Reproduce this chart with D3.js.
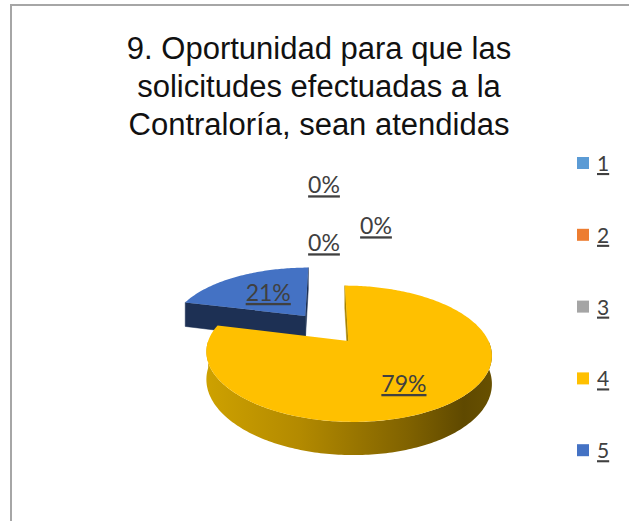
<!DOCTYPE html>
<html>
<head>
<meta charset="utf-8">
<script src="https://cdn.jsdelivr.net/npm/d3@7"></script>
<style>
  body { margin: 0; background: #fff; }
  svg text { font-family: "Lato", "Liberation Sans", sans-serif; }
</style>
</head>
<body>
<svg id="chart" width="629" height="521"></svg>
<script>
// data
var categories = ["1", "2", "3", "4", "5"];
var values = [0, 0, 0, 79, 21];
var colors = ["#5B9BD5", "#ED7D31", "#A5A5A5", "#FFC000", "#4472C4"];
var sideColors = ["#3f74a4", "#b35a1f", "#7a7a7a", "#a88400", "#1d3054"];
var titleLines = ["9. Oportunidad para que las", "solicitudes efectuadas a la", "Contraloría, sean atendidas"];

// small shifts for the data labels (the empty slices all sit at the 12 o'clock edge)
var labelNudge = [[-2, -91], [50, -50], [-2, -33], [-1, 10], [-1, -2]];

var svg = d3.select("#chart");
var width = 629, height = 521;

// frame
svg.append("rect")
    .attr("x", 11).attr("y", 5)
    .attr("width", width).attr("height", height)
    .style("fill", "none")
    .style("stroke", "#a6a6a6")
    .style("stroke-width", 2);

// title
svg.append("g").selectAll("text")
    .data(titleLines)
    .enter().append("text")
    .attr("x", 319)
    .attr("y", function(d, i) { return 59 + i * 38; })
    .attr("text-anchor", "middle")
    .style("font-family", "'Liberation Sans', Arial, sans-serif")
    .style("font-size", "31px")
    .style("fill", "#111")
    .text(function(d) { return d; });

// 3d pie geometry
var cx = 326, cy = 328;
var R = 135, RY = 61, P = 0.18, H = 26, E = 0.26;

var proj = function(X, Z, down)
{
    var s = 1 / (1 + P * Z);
    return [cx + R * X * s, cy + (-RY * Z + down) * s];
}

var pie = d3.pie().sort(null).value(function(d) { return d; });
var arcs = pie(values);

arcs.forEach(function(d, i)
{
    var mid = (d.startAngle + d.endAngle) / 2;
    var e = d.value > 0 ? E : 0;
    d.ex = e * Math.sin(mid);
    d.ez = e * Math.cos(mid);
    d.i = i;
});

var rim = function(d, a, down)
{
    return proj(d.ex + Math.sin(a), d.ez + Math.cos(a), down);
}
var apex = function(d, down)
{
    return proj(d.ex, d.ez, down);
}
var sample = function(a0, a1)
{
    var n = Math.max(2, Math.ceil((a1 - a0) / (Math.PI / 180)));
    return d3.range(n + 1).map(function(k) { return a0 + (a1 - a0) * k / n; });
}

var line = d3.line();

var defs = svg.append("defs");
var grad = defs.append("linearGradient")
    .attr("id", "sideYellow")
    .attr("gradientUnits", "userSpaceOnUse")
    .attr("x1", cx - R).attr("x2", cx + R + 40)
    .attr("y1", 0).attr("y2", 0);
grad.selectAll("stop")
    .data([[0, "#d2a500"], [0.35, "#b38a00"], [0.7, "#806200"], [0.88, "#5f4900"], [1, "#6a5200"]])
    .enter().append("stop")
    .attr("offset", function(d) { return d[0]; })
    .attr("stop-color", function(d) { return d[1]; });

var pieG = svg.append("g");
var drawn = arcs.filter(function(d) { return d.value > 0; })
    .sort(function(a, b) { return b.ez - a.ez; });

drawn.forEach(function(d)
{
    var g = pieG.append("g");

    // flat sides on the cut edges, only those turned to us
    [[d.startAngle, Math.sin(d.startAngle)], [d.endAngle, -Math.sin(d.endAngle)]].forEach(function(f)
    {
        if (f[1] > 0.05) return;
        g.append("path")
            .attr("d", line([apex(d, 0), rim(d, f[0], 0), rim(d, f[0], H), apex(d, H)]) + "Z")
            .style("fill", sideColors[d.i])
            .style("stroke", sideColors[d.i])
            .style("stroke-width", 0.5);
    });

    // round side, front half only
    var a0 = Math.max(d.startAngle, Math.PI / 2);
    var a1 = Math.min(d.endAngle, 3 * Math.PI / 2);
    if (a1 > a0)
    {
        var angs = sample(a0, a1);
        var pts = angs.map(function(a) { return rim(d, a, 0); })
            .concat(angs.slice().reverse().map(function(a) { return rim(d, a, H); }));
        g.append("path")
            .attr("d", line(pts) + "Z")
            .style("fill", d.i == 3 ? "url(#sideYellow)" : sideColors[d.i]);
    }

    // top face
    var top = [apex(d, 0)].concat(sample(d.startAngle, d.endAngle).map(function(a) { return rim(d, a, 0); }));
    g.append("path")
        .attr("d", line(top) + "Z")
        .style("fill", colors[d.i]);
});

// data labels
var labelPos = function(d)
{
    var p;
    if (d.value == 0)
        p = proj(0, 1, 0);
    else
    {
        var mid = (d.startAngle + d.endAngle) / 2;
        var r = d.i == 3 ? 0.58 : 0.5;
        p = proj(d.ex + r * Math.sin(mid), d.ez + r * Math.cos(mid), 0);
    }
    var z = labelNudge[d.i];
    return [p[0] + z[0], p[1] + z[1]];
}

svg.append("g").selectAll("text")
    .data(arcs)
    .enter().append("text")
    .attr("x", function(d) { return labelPos(d)[0]; })
    .attr("y", function(d) { return labelPos(d)[1] + 8; })
    .attr("text-anchor", "middle")
    .style("font-size", "23px")
    .style("fill", "#404040")
    .style("text-decoration", "underline")
    .text(function(d) { return Math.round(d.value) + "%"; });

// legend
var legend = svg.append("g").selectAll("g")
    .data(categories)
    .enter().append("g")
    .attr("transform", function(d, i) { return "translate(577," + (163 + i * 71.8) + ")"; });

legend.append("rect")
    .attr("x", 0).attr("y", -6)
    .attr("width", 12).attr("height", 12)
    .style("fill", function(d, i) { return colors[i]; });

legend.append("text")
    .attr("x", 20).attr("y", 8)
    .style("font-size", "21px")
    .style("fill", "#404040")
    .style("text-decoration", "underline")
    .text(function(d) { return d; });
</script>
</body>
</html>
